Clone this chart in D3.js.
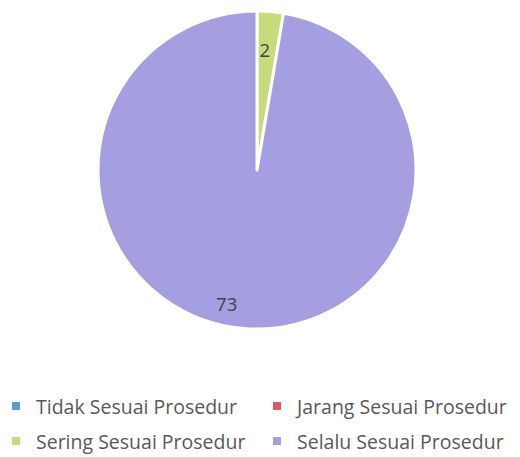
<!DOCTYPE html>
<html>
<head>
<meta charset="utf-8">
<script src="https://cdn.jsdelivr.net/npm/d3@7"></script>
<style>
  html, body { margin: 0; padding: 0; background: #fff; }
  svg { display: block; }
</style>
</head>
<body>
<svg id="chart" width="520" height="457"></svg>
<script>
// Survey categories and response counts
const categories = ["Tidak Sesuai Prosedur", "Jarang Sesuai Prosedur", "Sering Sesuai Prosedur", "Selalu Sesuai Prosedur"];
const values = [0, 0, 2, 73];
const colors = ["#5b9bd5", "#d9596b", "#c6dc7c", "#a59ee0"];

const svg = d3.select("#chart");
const cx = 257, cy = 170, r = 159;

const data = categories.map((c, i) => ({ name: c, value: values[i], color: colors[i] }));

const pie = d3.pie().value(d => d.value).sort(null);
const arc = d3.arc().innerRadius(0).outerRadius(r);

const g = svg.append("g").attr("transform", `translate(${cx},${cy})`);
const arcs = pie(data);
const shown = arcs.filter(d => d.data.value > 0);

g.selectAll("path")
  .data(shown)
  .join("path")
  .attr("d", arc)
  .attr("fill", d => d.data.color)
  .attr("stroke", "#fff")
  .attr("stroke-width", 3)
  .attr("stroke-linejoin", "round");

// Value labels: placed inside each slice, the large slice label set a little off its mid-angle
function labelPos(d) {
  const big = d.data.value > 10;
  const rad = r * (big ? 0.86 : 0.76);
  const mid = (d.startAngle + d.endAngle) / 2 + (big ? 0.14 : -0.02);
  return [Math.sin(mid) * rad, -Math.cos(mid) * rad];
}

g.selectAll("text.val")
  .data(shown)
  .join("text")
  .attr("class", "val")
  .attr("transform", d => `translate(${labelPos(d)})`)
  .attr("text-anchor", "middle")
  .attr("dominant-baseline", "central")
  .attr("font-family", "Open Sans, sans-serif")
  .attr("font-size", 18.5)
  .attr("fill", "#40404c")
  .text(d => d.data.value);

// Legend in two columns
const legend = svg.append("g").attr("font-family", "Open Sans, sans-serif");
const colX = [12, 273];
const rowY = [406, 441];
data.forEach((d, i) => {
  const x = colX[i % 2], y = rowY[Math.floor(i / 2)];
  const item = legend.append("g").attr("transform", `translate(${x},${y})`);
  item.append("rect")
    .attr("x", 0).attr("y", -4)
    .attr("width", 8).attr("height", 8)
    .attr("fill", d.color);
  item.append("text")
    .attr("x", 24).attr("y", 0)
    .attr("dominant-baseline", "central")
    .attr("font-size", 19.5)
    .attr("fill", "#595959")
    .text(d.name);
});
</script>
</body>
</html>
